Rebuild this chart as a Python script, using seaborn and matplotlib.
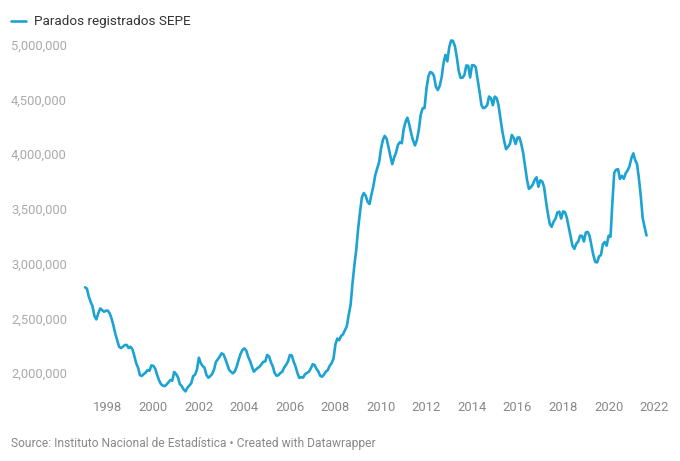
import pandas as pd
import matplotlib.pyplot as plt
import matplotlib.dates as mdates
import matplotlib.ticker as ticker
import seaborn as sns

# monthly registered unemployment, thousands, from Jan 1997
paro_1997_2001 = [
    2783, 2770, 2700, 2650, 2610, 2520, 2490, 2545, 2590, 2575, 2560, 2570,
    2570, 2545, 2500, 2435, 2360, 2300, 2240, 2228, 2240, 2256, 2256, 2228,
    2240, 2215, 2160, 2090, 2050, 1980, 1973, 1990, 2005, 2027, 2020, 2070,
    2065, 2040, 1985, 1936, 1900, 1885, 1880, 1895, 1915, 1936, 1930, 2010,
    1990, 1960, 1900, 1880, 1850, 1832, 1865, 1885, 1906, 1970, 1985, 2030,
]
paro_2002_2007 = [
    2140, 2090, 2065, 2050, 1985, 1957, 1970, 1990, 2030, 2100, 2125, 2150,
    2180, 2170, 2130, 2080, 2030, 2010, 1997, 2015, 2060, 2120, 2175, 2210,
    2225, 2205, 2150, 2110, 2060, 2012, 2030, 2045, 2058, 2080, 2103, 2105,
    2165, 2152, 2100, 2060, 2000, 1975, 1980, 2000, 2012, 2050, 2075, 2105,
    2165, 2160, 2105, 2060, 2000, 1955, 1962, 1958, 1990, 2000, 2012, 2040,
    2080, 2073, 2040, 2015, 1975, 1966, 1985, 2012, 2027, 2065, 2090, 2130,
]
paro_2008_2013 = [
    2261, 2315, 2300, 2338, 2353, 2390, 2426, 2530, 2625, 2818, 2989, 3129,
    3327, 3482, 3605, 3645, 3620, 3564, 3544, 3629, 3709, 3808, 3869, 3924,
    4048, 4130, 4167, 4142, 4066, 3982, 3909, 3970, 4018, 4086, 4110, 4100,
    4231, 4299, 4334, 4270, 4190, 4122, 4080, 4131, 4227, 4361, 4420, 4422,
    4600, 4712, 4751, 4744, 4714, 4615, 4587, 4626, 4705, 4834, 4908, 4849,
    4981, 5040, 5035, 4989, 4891, 4763, 4698, 4699, 4724, 4811, 4808, 4701,
]
paro_2014_2021 = [
    4814, 4812, 4796, 4684, 4572, 4450, 4420, 4428, 4448, 4527, 4512, 4448,
    4526, 4512, 4451, 4333, 4215, 4120, 4046, 4067, 4094, 4176, 4149, 4094,
    4152, 4153, 4094, 4011, 3891, 3767, 3683, 3697, 3721, 3764, 3789, 3703,
    3761, 3750, 3702, 3573, 3461, 3363, 3336, 3382, 3410, 3467, 3475, 3412,
    3477, 3470, 3422, 3335, 3252, 3163, 3135, 3182, 3202, 3255, 3253, 3202,
    3285, 3289, 3255, 3164, 3079, 3015, 3011, 3065, 3079, 3177, 3198, 3164,
    3254, 3246, 3548, 3832, 3858, 3863, 3773, 3802, 3776, 3826, 3851, 3889,
    3964, 4008, 3949, 3911, 3782, 3615, 3417, 3333, 3257,
]
serie = "Parados registrados SEPE"
y_ticks = [2000000, 2500000, 3000000, 3500000, 4000000, 4500000, 5000000]

valores = paro_1997_2001 + paro_2002_2007 + paro_2008_2013 + paro_2014_2021
df = pd.DataFrame({
    "fecha": pd.date_range("1997-01-01", periods=len(valores), freq="MS"),
    "parados": [v * 1000 for v in valores],
})

sns.set_theme(style="white")
plt.rcParams["font.family"] = ["Roboto", "DejaVu Sans"]

fig = plt.figure(figsize=(6.8, 4.61), dpi=100)
ax = fig.add_axes([80 / 680, 1 - 395 / 461, 580 / 680, 360 / 461])

sns.lineplot(data=df, x="fecha", y="parados", ax=ax, color="#1ca3d2",
             linewidth=1.9, label=serie)

ax.set_xlim(pd.Timestamp("1996-10-12"), pd.Timestamp("2022-04-05"))
ax.set_ylim(1798900, 5089600)
ax.set_xlabel("")
ax.set_ylabel("")
for s in ax.spines.values():
    s.set_visible(False)

ax.xaxis.set_major_locator(mdates.YearLocator(2))
ax.xaxis.set_major_formatter(mdates.DateFormatter("%Y"))
ax.set_yticks(y_ticks)
ax.yaxis.set_major_formatter(ticker.FuncFormatter(lambda v, p: f"{int(v):,}"))
ax.tick_params(axis="x", length=0, pad=4, labelsize=9.4, labelcolor="#888888")
ax.tick_params(axis="y", length=0, pad=49.7, labelsize=9.4, labelcolor="#aaaaaa")
for lab in ax.get_yticklabels():
    lab.set_horizontalalignment("left")

ax.legend(loc="center left", bbox_to_anchor=(11 / 680, 1 - 22 / 461),
          bbox_transform=fig.transFigure, frameon=False, handlelength=1.1,
          handletextpad=0.6, borderpad=0, borderaxespad=0,
          prop={"size": 9.7}, labelcolor="#333333")

fig.text(11 / 680, 1 - 443 / 461,
         "Source: Instituto Nacional de Estadística • Created with Datawrapper",
         fontsize=8.65, color="#888888", va="center", ha="left")

fig.savefig("out.png", dpi=100)
